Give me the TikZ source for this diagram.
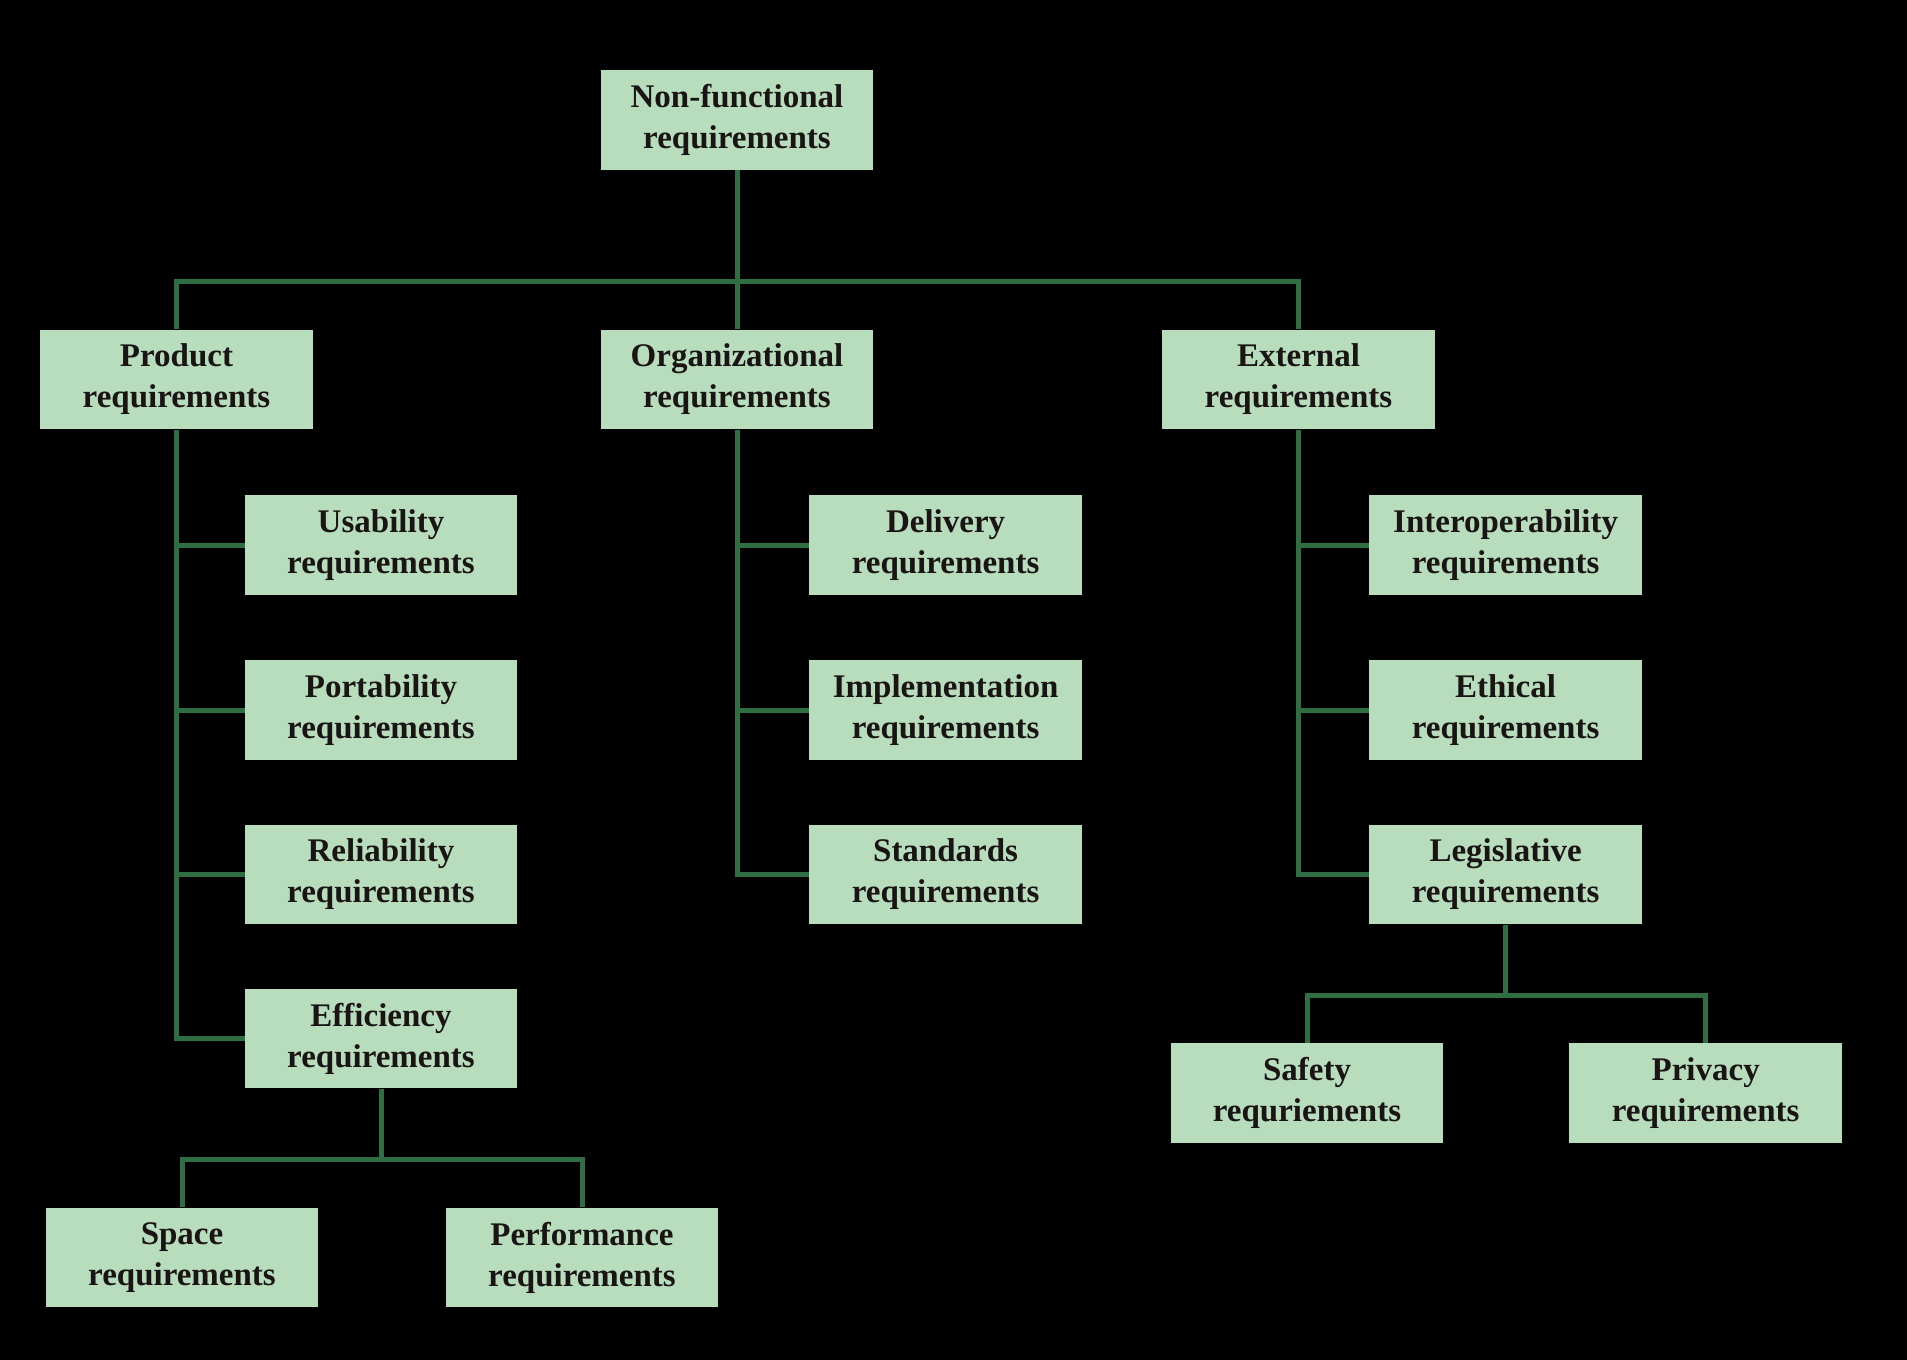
\documentclass[tikz,border=0pt]{standalone}
\usepackage{fontspec}
\setmainfont{Liberation Serif}
\begin{document}
\begin{tikzpicture}[x=1pt,y=-1pt,
  box/.style={fill=boxfill, draw=none, minimum width=272.5pt, minimum height=99.7pt,
    inner sep=0pt, align=center, text=textc,
    font=\fontsize{33}{41}\selectfont\bfseries},
  link/.style={draw=linec, line width=5pt}]
\definecolor{boxfill}{HTML}{B7DDBD}
\definecolor{linec}{HTML}{2F6E42}
\definecolor{textc}{HTML}{1A1414}
\fill[black] (0,0) rectangle (1907,1360);
\useasboundingbox (0,0) rectangle (1907,1360);
% nodes
\node[box] (nf)   at (737,120)    {Non-functional\\requirements};
\node[box] (prod) at (176.5,379.5) {Product\\requirements};
\node[box] (org)  at (737,379.5)   {Organizational\\requirements};
\node[box] (ext)  at (1298.5,379.5) {External\\requirements};
\node[box] (usa)  at (381,545)     {Usability\\requirements};
\node[box] (por)  at (381,710)     {Portability\\requirements};
\node[box] (rel)  at (381,874.5)   {Reliability\\requirements};
\node[box] (eff)  at (381,1038.6)  {Efficiency\\requirements};
\node[box] (spa)  at (182,1257.5)  {Space\\requirements};
\node[box] (per)  at (582,1257.5)  {Performance\\requirements};
\node[box] (del)  at (945.6,545)   {Delivery\\requirements};
\node[box] (imp)  at (945.6,710)   {Implementation\\requirements};
\node[box] (sta)  at (945.6,874.5) {Standards\\requirements};
\node[box] (int)  at (1505.6,545)  {Interoperability\\requirements};
\node[box] (eth)  at (1505.6,710)  {Ethical\\requirements};
\node[box] (leg)  at (1505.6,874.5) {Legislative\\requirements};
\node[box] (saf)  at (1307,1093)   {Safety\\requriements};
\node[box] (pri)  at (1705.7,1093) {Privacy\\requirements};
% buses
\coordinate (b1) at (737,281);
\coordinate (b2) at (381,1159);
\coordinate (b3) at (1505.6,995);
% connectors
\draw[link] (nf.south) -- (b1);
\draw[link] (b1) -| (prod.north);
\draw[link] (b1) -| (ext.north);
\draw[link] (b1) -- (org.north);
\draw[link] (prod.south) |- (usa.west);
\draw[link] (prod.south) |- (por.west);
\draw[link] (prod.south) |- (rel.west);
\draw[link] (prod.south) |- (eff.west);
\draw[link] (org.south) |- (del.west);
\draw[link] (org.south) |- (imp.west);
\draw[link] (org.south) |- (sta.west);
\draw[link] (ext.south) |- (int.west);
\draw[link] (ext.south) |- (eth.west);
\draw[link] (ext.south) |- (leg.west);
\draw[link] (eff.south) -- (b2);
\draw[link] (b2) -| (spa.north);
\draw[link] (b2) -| (per.north);
\draw[link] (leg.south) -- (b3);
\draw[link] (b3) -| (saf.north);
\draw[link] (b3) -| (pri.north);
\end{tikzpicture}
\end{document}
